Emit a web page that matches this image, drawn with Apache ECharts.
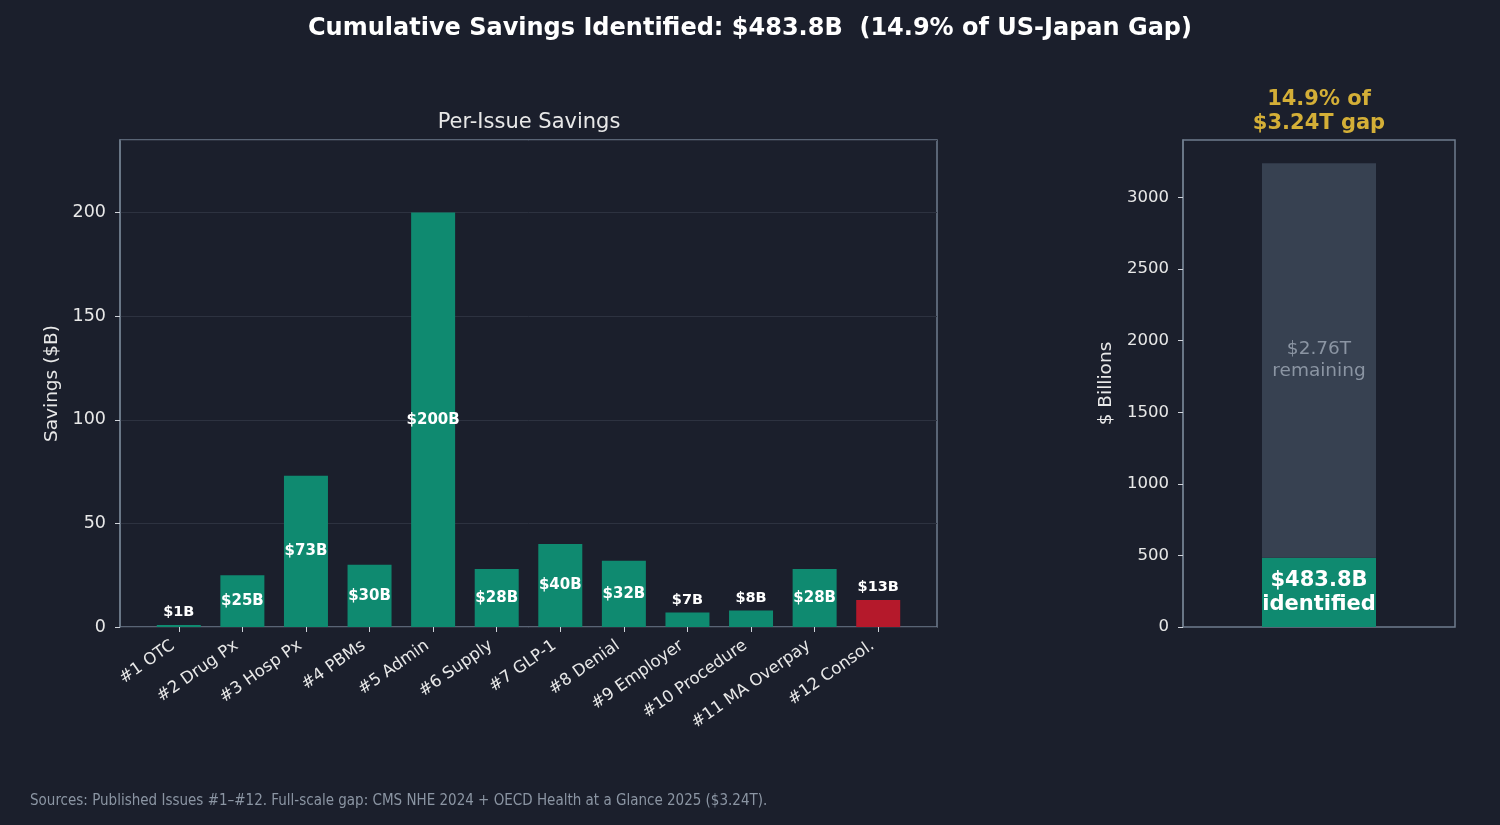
<!DOCTYPE html>
<html lang="en">
<head>
<meta charset="UTF-8">
<title>Cumulative Savings</title>
<style>
  html, body { margin: 0; padding: 0; background: #1b1f2c; }
  #chart { width: 1500px; height: 825px; }
</style>
</head>
<body>
<div id="chart"></div>
<script src="https://cdn.jsdelivr.net/npm/echarts@6/dist/echarts.min.js"></script>
<script>
// data
const categories = ['#1 OTC', '#2 Drug Px', '#3 Hosp Px', '#4 PBMs', '#5 Admin', '#6 Supply',
  '#7 GLP-1', '#8 Denial', '#9 Employer', '#10 Procedure', '#11 MA Overpay', '#12 Consol.'];
const savings = [1, 25, 73, 30, 200, 28, 40, 32, 7, 8, 28, 13];
const identified = 483.8;   // $B
const gapTotal = 3240;      // $B

const BG = '#1b1f2c';
const TEAL = '#0f8a70';
const RED = '#b5192b';
const GREY_BAR = '#374151';
const SPINE = '#6f7c8d';
const TXT = '#e8e8e8';
const FONT = 'DejaVu Sans';

const pct = (identified / gapTotal * 100).toFixed(1);
const remaining = gapTotal - identified;

const barData = savings.map(function (v, i) {
  const small = v < 15;
  return {
    value: v,
    itemStyle: { color: i === savings.length - 1 ? RED : TEAL },
    label: small
      ? { position: 'top', distance: 5, fontSize: 14.5 }
      : { position: 'inside', fontSize: 15 }
  };
});

const plain = function (v) { return String(v); };

const chart = echarts.init(document.getElementById('chart'));
chart.setOption({
  backgroundColor: BG,
  animation: false,
  textStyle: { fontFamily: FONT },
  title: [{
    text: 'Cumulative Savings Identified: $' + identified + 'B  (' + pct + '% of US-Japan Gap)',
    left: 'center', top: 12,
    textStyle: { color: '#ffffff', fontSize: 24, fontWeight: 'bold', fontFamily: FONT }
  }, {
    text: 'Per-Issue Savings',
    left: 524, top: 107, textAlign: 'center',
    textStyle: { color: TXT, fontSize: 21, fontWeight: 'normal', fontFamily: FONT }
  }, {
    text: pct + '% of\n$' + (gapTotal / 1000).toFixed(2) + 'T gap',
    left: 1314, top: 83, textAlign: 'center',
    textStyle: { color: '#d4af37', fontSize: 21, fontWeight: 'bold', lineHeight: 24, fontFamily: FONT }
  }, {
    text: 'Sources: Published Issues #1\u2013#12. Full-scale gap: CMS NHE 2024 + OECD Health at a Glance 2025 ($3.24T).',
    left: 25, top: 789,
    textStyle: { color: '#8b95a3', fontSize: 15, fontWeight: 'normal', fontFamily: 'DejaVu Sans Condensed' }
  }],
  grid: [
    // frame of the left panel
    { left: 120, top: 140, width: 817, height: 487, show: true, borderColor: SPINE, borderWidth: 1.5, backgroundColor: 'transparent' },
    // bars of the left panel (inset like matplotlib margins)
    { left: 147, top: 140, width: 763, height: 487 },
    // right panel
    { left: 1183, top: 140, width: 272, height: 487, show: true, borderColor: SPINE, borderWidth: 1.5, backgroundColor: 'transparent' }
  ],
  xAxis: [
    { gridIndex: 0, type: 'value', min: 0, max: 1, show: false },
    {
      gridIndex: 1, type: 'category', data: categories,
      axisLine: { show: false },
      axisTick: { show: true, alignWithLabel: true, length: 5, lineStyle: { color: '#cfd3da' } },
      axisLabel: { color: TXT, fontSize: 16.5, rotate: 35, margin: 13, interval: 0, padding: [0, 7, 0, 0] }
    },
    {
      gridIndex: 2, type: 'category', data: ['total'],
      axisLine: { show: false }, axisTick: { show: false }, axisLabel: { show: false }
    }
  ],
  yAxis: [
    {
      gridIndex: 0, type: 'value', min: 0, max: 235, interval: 50,
      name: 'Savings ($B)', nameLocation: 'middle', nameGap: 58,
      nameTextStyle: { color: TXT, fontSize: 18.5 },
      axisLine: { show: true, lineStyle: { color: SPINE, width: 1.5 } },
      axisTick: { show: true, length: 5, lineStyle: { color: '#cfd3da' } },
      axisLabel: { color: TXT, fontSize: 17.5, margin: 14, showMaxLabel: false, formatter: plain, padding: [4, 0, 0, 0] },
      splitLine: { show: true, lineStyle: { color: '#2d3240', width: 1 } }
    },
    { gridIndex: 1, type: 'value', min: 0, max: 235, show: false },
    {
      gridIndex: 2, type: 'value', min: 0, max: 3402, interval: 500,
      name: '$ Billions', nameLocation: 'middle', nameGap: 67,
      nameTextStyle: { color: TXT, fontSize: 18.5 },
      axisLine: { show: true, lineStyle: { color: SPINE, width: 1.5 } },
      axisTick: { show: true, length: 5, lineStyle: { color: '#cfd3da' } },
      axisLabel: { color: TXT, fontSize: 16.5, margin: 14, showMaxLabel: false, formatter: plain, padding: [4, 0, 0, 0] },
      splitLine: { show: false }
    }
  ],
  series: [{
    type: 'bar', xAxisIndex: 1, yAxisIndex: 1,
    barWidth: 44,
    data: barData,
    label: {
      show: true, color: '#ffffff', fontWeight: 'bold', fontFamily: FONT,
      formatter: function (p) { return '$' + Math.round(p.value) + 'B'; }
    }
  }, {
    type: 'bar', xAxisIndex: 2, yAxisIndex: 2, stack: 'gap',
    barWidth: 114,
    itemStyle: { color: TEAL },
    data: [identified],
    label: {
      show: true, position: 'inside', color: '#ffffff', fontWeight: 'bold', fontSize: 21, lineHeight: 24,
      formatter: function (p) { return '$' + p.value + 'B\nidentified'; }
    }
  }, {
    type: 'bar', xAxisIndex: 2, yAxisIndex: 2, stack: 'gap',
    barWidth: 114,
    itemStyle: { color: GREY_BAR },
    data: [remaining],
    label: {
      show: true, position: 'inside', color: '#8b95a3', fontSize: 18.5, lineHeight: 22,
      formatter: function (p) { return '$' + (p.value / 1000).toFixed(2) + 'T\nremaining'; }
    }
  }]
});
</script>
</body>
</html>
